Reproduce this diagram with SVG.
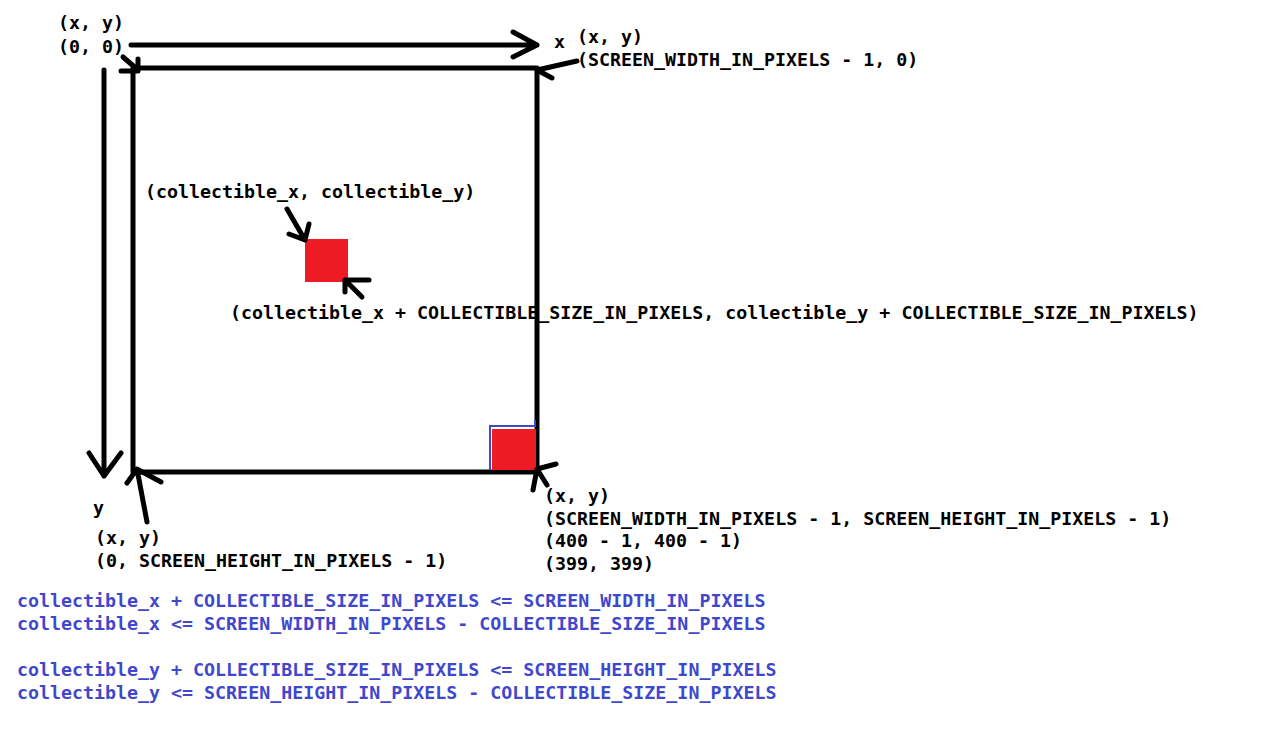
<svg xmlns="http://www.w3.org/2000/svg" width="1278" height="751" viewBox="0 0 1278 751">
<style>
.t{font-family:"DejaVu Sans Mono","Liberation Mono",monospace;font-size:18.3px;font-weight:bold;fill:#000}
.b{fill:#3f48cc}
.ln{stroke:#000;stroke-width:5;fill:none;stroke-linecap:round;stroke-linejoin:round}
</style>
<rect width="1278" height="751" fill="#fff"/>
<g id="frame">
<rect x="133" y="68" width="404" height="404" class="ln" stroke-linecap="butt"/>
</g>
<g id="collectible">
<rect x="305" y="239" width="43" height="43" fill="#ed1c24"/>
</g>
<g id="collectible-corner">
<path d="M490 470 V426 H535 V420" fill="none" stroke="#3f48cc" stroke-width="2"/>
<rect x="492" y="429" width="44" height="41" fill="#ed1c24"/>
</g>
<g id="connectors">
<path class="ln" d="M131 45 H537 M513 32 L537 45 L513 57"/>
<path class="ln" d="M104 70 V476 M89 453 L104 476 L121 453"/>
<path class="ln" d="M123 57 L138 70 M138 59 V71 H121"/>
<path class="ln" d="M577 61 L537 70 L552 78"/>
<path class="ln" d="M287 209 L305 240 M289 234 L305 240 L309 224"/>
<path class="ln" d="M362 297 L345 280 H369 M345 280 V292"/>
<path class="ln" d="M547 485 L537 469 L556 464 M537 469 L533 490"/>
<path class="ln" d="M147 522 L137 469 L127 483 M137 469 L161 482"/>
</g>
<g id="label-origin">
<text class="t" x="58" y="29">(x, y)</text>
<text class="t" x="58" y="53">(0, 0)</text>
</g>
<g id="label-x">
<text class="t" x="554" y="48">x</text>
</g>
<g id="label-top-right">
<text class="t" x="577" y="43">(x, y)</text>
<text class="t" x="577" y="66">(SCREEN_WIDTH_IN_PIXELS - 1, 0)</text>
</g>
<g id="label-collectible">
<text class="t" x="145" y="198">(collectible_x, collectible_y)</text>
<text class="t" x="230" y="319">(collectible_x + COLLECTIBLE_SIZE_IN_PIXELS, collectible_y + COLLECTIBLE_SIZE_IN_PIXELS)</text>
</g>
<g id="label-y">
<text class="t" x="93" y="514">y</text>
</g>
<g id="label-bottom-left">
<text class="t" x="95" y="544">(x, y)</text>
<text class="t" x="95" y="567">(0, SCREEN_HEIGHT_IN_PIXELS - 1)</text>
</g>
<g id="label-bottom-right">
<text class="t" x="544" y="502">(x, y)</text>
<text class="t" x="544" y="525">(SCREEN_WIDTH_IN_PIXELS - 1, SCREEN_HEIGHT_IN_PIXELS - 1)</text>
<text class="t" x="544" y="547">(400 - 1, 400 - 1)</text>
<text class="t" x="544" y="570">(399, 399)</text>
</g>
<g id="constraints">
<text class="t b" x="17" y="607">collectible_x + COLLECTIBLE_SIZE_IN_PIXELS &lt;= SCREEN_WIDTH_IN_PIXELS</text>
<text class="t b" x="17" y="630">collectible_x &lt;= SCREEN_WIDTH_IN_PIXELS - COLLECTIBLE_SIZE_IN_PIXELS</text>
<text class="t b" x="17" y="676">collectible_y + COLLECTIBLE_SIZE_IN_PIXELS &lt;= SCREEN_HEIGHT_IN_PIXELS</text>
<text class="t b" x="17" y="699">collectible_y &lt;= SCREEN_HEIGHT_IN_PIXELS - COLLECTIBLE_SIZE_IN_PIXELS</text>
</g>
</svg>
